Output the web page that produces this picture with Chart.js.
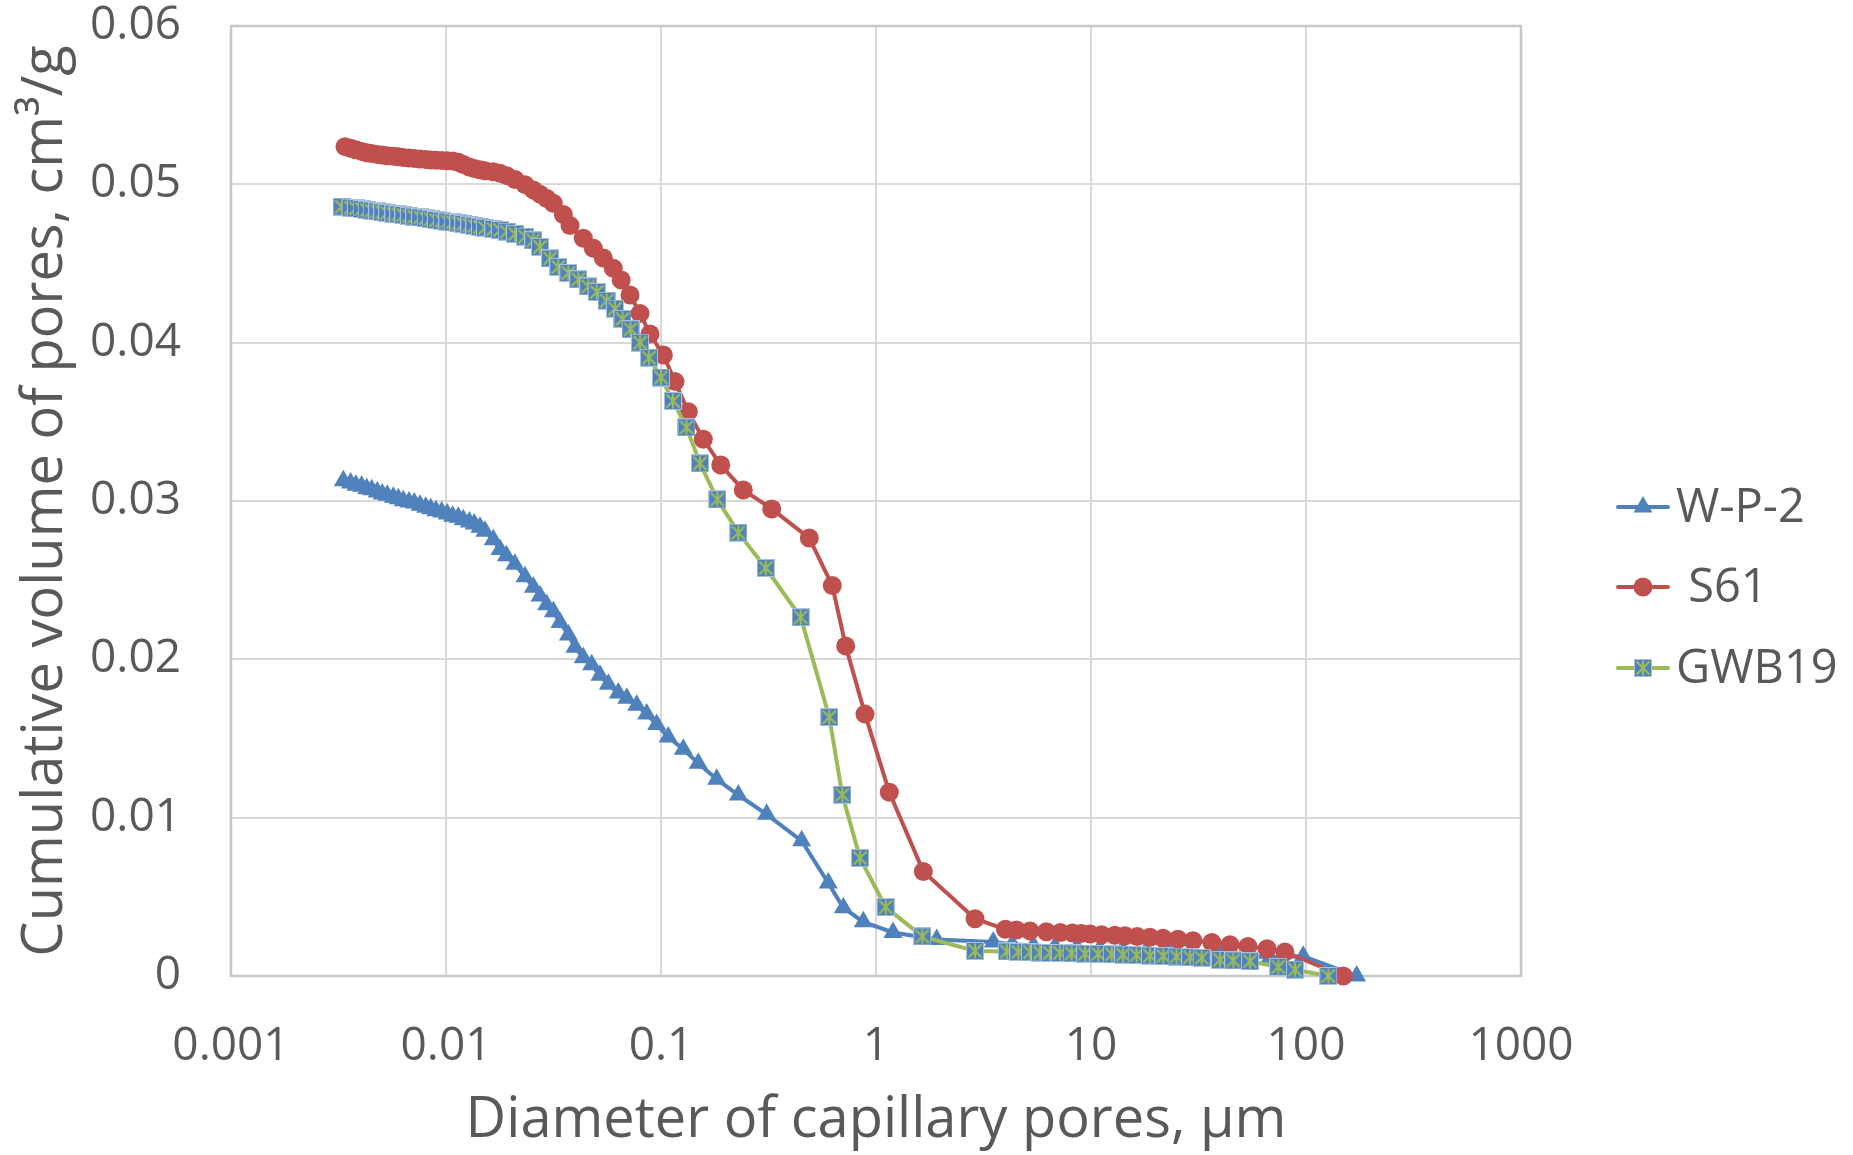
<!DOCTYPE html>
<html>
<head>
<meta charset="utf-8">
<script src="https://cdn.jsdelivr.net/npm/chart.js@4/dist/chart.umd.min.js"></script>
<style>
  html, body { margin: 0; padding: 0; background: #fff; }
  #wrap { width: 1853px; height: 1155px; }
</style>
</head>
<body>
<div id="wrap"><canvas id="poreChart" width="1853" height="1155"></canvas></div>
<script>
// ----- data -----
const seriesNames = ["W-P-2", " S61", "GWB19"];

const wp2Diameter = [0.00333, 0.00360, 0.00381, 0.00405, 0.00428, 0.00451, 0.00479, 0.00505, 0.00533, 0.00569,
  0.00600, 0.00633, 0.00673, 0.00712, 0.00757, 0.00805, 0.00849, 0.00898, 0.00955, 0.01014,
  0.01074, 0.01141, 0.01203, 0.01284, 0.01354, 0.01439, 0.01518, 0.01660, 0.01783, 0.0191,
  0.0209, 0.0233, 0.0255, 0.0274, 0.0294, 0.0316, 0.0339, 0.0371, 0.0398, 0.0435,
  0.0476, 0.052, 0.0569, 0.0633, 0.0693, 0.0771, 0.0858, 0.0955, 0.108, 0.127,
  0.149, 0.1816, 0.229, 0.310, 0.451, 0.600, 0.705, 0.873, 1.20, 1.915,
  3.51, 4.3, 5.4, 6.8, 8.6, 11, 14, 18, 23, 30,
  40, 53, 68, 97, 172];
const wp2Volume = [0.03128, 0.03114, 0.03099, 0.03093, 0.03078, 0.03071, 0.03057, 0.03044, 0.03036, 0.03023,
  0.03015, 0.03002, 0.02994, 0.02987, 0.02973, 0.0296, 0.02951, 0.02939, 0.02931, 0.02918,
  0.02903, 0.02897, 0.02882, 0.02867, 0.02855, 0.02834, 0.02809, 0.02756, 0.02693, 0.02655,
  0.0260, 0.02521, 0.02455, 0.0240, 0.02344, 0.0230, 0.02233, 0.02154, 0.02077, 0.0201,
  0.01966, 0.01899, 0.01843, 0.01787, 0.01754, 0.0171, 0.01654, 0.01588, 0.0151, 0.01432,
  0.01343, 0.01243, 0.01143, 0.01021, 0.00854, 0.00587, 0.00431, 0.00342, 0.00275, 0.0023,
  0.00215, 0.0020, 0.00193, 0.00186, 0.0018, 0.00173, 0.00167, 0.0016, 0.00153, 0.00145,
  0.00136, 0.00126, 0.00118, 0.00125, 0];

const s61Diameter = [0.00339, 0.00360, 0.00381, 0.00405, 0.00428, 0.00451, 0.00479, 0.00505, 0.00533, 0.00569,
  0.00600, 0.00633, 0.00673, 0.00712, 0.00757, 0.00805, 0.00849, 0.00898, 0.00955, 0.01014,
  0.01074, 0.01141, 0.01203, 0.01284, 0.01354, 0.01439, 0.01518, 0.01660, 0.01783, 0.01916,
  0.02094, 0.02330, 0.02547, 0.02736, 0.02941, 0.03155, 0.03513, 0.03774, 0.04352, 0.04842,
  0.05390, 0.05999, 0.0653, 0.07175, 0.07986, 0.08887, 0.1025, 0.1162, 0.1340, 0.1573,
  0.1896, 0.2414, 0.3273, 0.4895, 0.6262, 0.7228, 0.889, 1.153, 1.66, 2.888,
  4.0, 4.5, 5.2, 6.2, 7.2, 8.2, 9.0, 9.9, 11.2, 12.9,
  14.4, 16.4, 18.8, 21.6, 25.4, 29.8, 36.5, 44.3, 53.7, 65.9,
  79.8, 149];
const s61Volume = [0.05238, 0.05228, 0.05218, 0.05208, 0.05200, 0.05194, 0.05189, 0.05185, 0.05181, 0.05177,
  0.05174, 0.05170, 0.05166, 0.05163, 0.05160, 0.05157, 0.05154, 0.05152, 0.05150, 0.05149,
  0.05148, 0.05140, 0.05125, 0.05110, 0.05100, 0.05092, 0.05086, 0.05080, 0.05070, 0.05055,
  0.05030, 0.04998, 0.04965, 0.04938, 0.04910, 0.04880, 0.04810, 0.04740, 0.04659, 0.04596,
  0.04535, 0.04470, 0.04396, 0.04301, 0.04185, 0.04055, 0.03922, 0.03754, 0.03564, 0.0339,
  0.03227, 0.0307, 0.02950, 0.02766, 0.02466, 0.02084, 0.01654, 0.0116, 0.0066, 0.00362,
  0.00295, 0.00290, 0.00285, 0.0028, 0.00275, 0.00271, 0.00268, 0.00265, 0.00261, 0.00257,
  0.00254, 0.0025, 0.00245, 0.00239, 0.00232, 0.00223, 0.00211, 0.00198, 0.00187, 0.00172,
  0.00152, 0];

const gwbDiameter = [0.00327, 0.00360, 0.00381, 0.00405, 0.00428, 0.00451, 0.00479, 0.00505, 0.00533, 0.00569,
  0.00600, 0.00633, 0.00673, 0.00712, 0.00757, 0.00805, 0.00849, 0.00898, 0.00955, 0.01014,
  0.01074, 0.01141, 0.01203, 0.01284, 0.01354, 0.01439, 0.01518, 0.01660, 0.01783, 0.01916,
  0.02094, 0.02330, 0.02547, 0.02736, 0.03046, 0.03329, 0.03706, 0.04124, 0.04591, 0.05022,
  0.05589, 0.06109, 0.06621, 0.07214, 0.07986, 0.08794, 0.1000, 0.1137, 0.1314, 0.1518,
  0.1828, 0.229, 0.3069, 0.4465, 0.6064, 0.6972, 0.8426, 1.109, 1.642, 2.888,
  4.06, 4.59, 5.2, 5.79, 6.44, 7.17, 8.13, 9.38, 10.8, 12.5,
  14.1, 16.3, 18.8, 21.7, 25.0, 28.9, 32.7, 39.8, 45.9, 54.9,
  74.3, 88.9, 127];
const gwbVolume = [0.04859, 0.04853, 0.04849, 0.04844, 0.04839, 0.04834, 0.04829, 0.04824, 0.04820, 0.04815,
  0.04811, 0.04806, 0.04801, 0.04796, 0.04791, 0.04786, 0.04780, 0.04775, 0.04770, 0.04765,
  0.04760, 0.04755, 0.04751, 0.04744, 0.04738, 0.04732, 0.04726, 0.04719, 0.04711, 0.04701,
  0.04687, 0.04670, 0.04646, 0.04605, 0.04532, 0.04478, 0.04440, 0.04400, 0.04355, 0.04320,
  0.04265, 0.04215, 0.04150, 0.04085, 0.04000, 0.03905, 0.03780, 0.03632, 0.03465, 0.03238,
  0.03010, 0.02800, 0.02577, 0.02266, 0.01635, 0.01145, 0.00745, 0.00435, 0.00250, 0.00158,
  0.00155, 0.00152, 0.0015, 0.00148, 0.00146, 0.00145, 0.00143, 0.00141, 0.00139, 0.00137,
  0.00135, 0.00132, 0.00129, 0.00126, 0.00123, 0.00119, 0.00115, 0.00102, 0.00098, 0.00093,
  0.00058, 0.0004, 0];

const xTickValues = [0.001, 0.01, 0.1, 1, 10, 100, 1000];
const xTickLabels = ["0.001", "0.01", "0.1", "1", "10", "100", "1000"];
const yTickValues = [0, 0.01, 0.02, 0.03, 0.04, 0.05, 0.06];
const yTickLabels = ["0", "0.01", "0.02", "0.03", "0.04", "0.05", "0.06"];

const xTitle = "Diameter of capillary pores, µm";
const yTitle = "Cumulative volume of pores, cm³/g";

// ----- styling -----
const BLUE = "#4F81BD", RED = "#C0504D", GREEN = "#9BBB59";
const TEXT = "#595959", GRID = "#D9D9D9";
const FONT = "'Open Sans', 'Liberation Sans', sans-serif";

// blue square with green asterisk, the GWB19 marker
function starSquare(size) {
  const c = document.createElement("canvas");
  c.width = size; c.height = size;
  const g = c.getContext("2d");
  g.fillStyle = BLUE;
  g.fillRect(0, 0, size, size);
  g.strokeStyle = "#A9C1DE";
  g.lineWidth = 1;
  g.strokeRect(0.5, 0.5, size - 1, size - 1);
  g.strokeStyle = GREEN;
  g.lineWidth = 2.2;
  g.beginPath();
  g.moveTo(size / 2, 1.5); g.lineTo(size / 2, size - 1.5);
  g.moveTo(2.5, 2.5); g.lineTo(size - 2.5, size - 2.5);
  g.moveTo(size - 2.5, 2.5); g.lineTo(2.5, size - 2.5);
  g.stroke();
  return c;
}
const gwbMarker = starSquare(18);

function toPoints(xs, ys) {
  return xs.map((x, i) => ({ x: x, y: ys[i] }));
}

// plot frame + legend drawn by hand to match the original
const framePlugin = {
  id: "frame",
  beforeDatasetsDraw(chart) {
    const { ctx, chartArea: a } = chart;
    ctx.save();
    ctx.strokeStyle = "#C8C8C8";
    ctx.lineWidth = 2.5;
    ctx.strokeRect(a.left, a.top, a.right - a.left, a.bottom - a.top);
    ctx.restore();
  },
  afterDraw(chart) {
    const ctx = chart.ctx;
    const rows = [507, 587, 668];
    const colors = [BLUE, RED, GREEN];
    ctx.save();
    rows.forEach((y, i) => {
      ctx.strokeStyle = colors[i];
      ctx.lineWidth = 4;
      ctx.lineCap = "round";
      ctx.beginPath();
      ctx.moveTo(1618, y);
      ctx.lineTo(1668, y);
      ctx.stroke();
      const cx = 1643;
      if (i === 0) {
        ctx.fillStyle = BLUE;
        ctx.beginPath();
        ctx.moveTo(cx, y - 11);
        ctx.lineTo(cx + 9.5, y + 5.5);
        ctx.lineTo(cx - 9.5, y + 5.5);
        ctx.closePath();
        ctx.fill();
      } else if (i === 1) {
        ctx.fillStyle = RED;
        ctx.beginPath();
        ctx.arc(cx, y, 9.5, 0, Math.PI * 2);
        ctx.fill();
      } else {
        ctx.drawImage(gwbMarker, cx - 9, y - 9);
      }
      ctx.fillStyle = TEXT;
      ctx.font = "47px " + FONT;
      ctx.textBaseline = "middle";
      ctx.textAlign = "left";
      ctx.fillText(seriesNames[i], 1676, y + 2);
    });
    ctx.restore();
  }
};

const ctx = document.getElementById("poreChart").getContext("2d");
new Chart(ctx, {
  type: "scatter",
  data: {
    datasets: [
      {
        label: seriesNames[0],
        data: toPoints(wp2Diameter, wp2Volume),
        showLine: true,
        borderColor: BLUE,
        backgroundColor: BLUE,
        borderWidth: 4,
        pointStyle: "triangle",
        pointRadius: 11,
        pointBorderWidth: 0,
        pointBackgroundColor: BLUE,
        tension: 0,
        clip: false,
        order: 3
      },
      {
        label: seriesNames[1],
        data: toPoints(s61Diameter, s61Volume),
        showLine: true,
        borderColor: RED,
        backgroundColor: RED,
        borderWidth: 4,
        pointStyle: "circle",
        pointRadius: 9.5,
        pointBorderWidth: 0,
        pointBackgroundColor: RED,
        tension: 0,
        clip: false,
        order: 2
      },
      {
        label: seriesNames[2],
        data: toPoints(gwbDiameter, gwbVolume),
        showLine: true,
        borderColor: GREEN,
        backgroundColor: BLUE,
        borderWidth: 4,
        pointStyle: gwbMarker,
        pointRadius: 9,
        tension: 0,
        clip: false,
        order: 1
      }
    ]
  },
  options: {
    responsive: false,
    animation: false,
    events: [],
    layout: { padding: { left: 0, right: 332, top: 26, bottom: 0 } },
    plugins: {
      legend: { display: false },
      tooltip: { enabled: false }
    },
    scales: {
      x: {
        type: "logarithmic",
        min: 0.001,
        max: 1000,
        afterBuildTicks: (s) => { s.ticks = xTickValues.map(v => ({ value: v })); },
        afterFit: (s) => { s.height = 179; },
        grid: { color: GRID, lineWidth: 2, drawTicks: false },
        border: { display: false },
        ticks: {
          autoSkip: false,
          maxRotation: 0,
          padding: 48,
          color: TEXT,
          font: { family: FONT, size: 46, lineHeight: 1 },
          callback: (v, i) => xTickLabels[i]
        },
        title: {
          display: true,
          text: xTitle,
          color: TEXT,
          font: { family: FONT, size: 56, lineHeight: 1 },
          padding: { top: 0, bottom: 6 }
        }
      },
      y: {
        type: "linear",
        min: 0,
        max: 0.06,
        afterBuildTicks: (s) => { s.ticks = yTickValues.map(v => ({ value: v })); },
        afterFit: (s) => { s.width = 231; },
        // invisible tick marks push the labels away from the plot without
        // adding label padding to the top of the chart area
        grid: { color: GRID, lineWidth: 2, drawTicks: true, tickLength: 50, tickColor: "rgba(0,0,0,0)" },
        border: { display: false },
        ticks: {
          padding: 0,
          color: TEXT,
          font: { family: FONT, size: 46, lineHeight: 1 },
          callback: (v, i) => yTickLabels[i]
        },
        title: {
          display: true,
          text: yTitle,
          color: TEXT,
          font: { family: FONT, size: 56, lineHeight: 1 },
          padding: { top: 18, bottom: 0 }
        }
      }
    }
  },
  plugins: [framePlugin]
});
</script>
</body>
</html>
